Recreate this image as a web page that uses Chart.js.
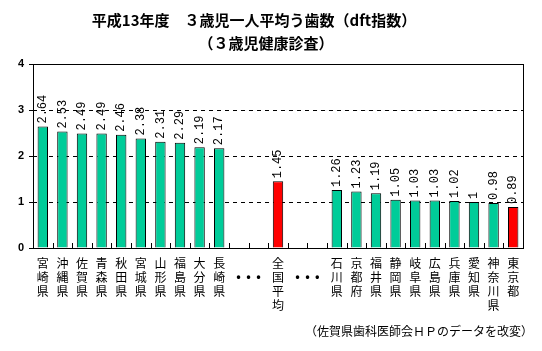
<!DOCTYPE html>
<html>
<head>
<meta charset="utf-8">
<script src="https://cdn.jsdelivr.net/npm/chart.js@4"></script>
<style>
  html, body { margin: 0; padding: 0; background: #fff; }
  #wrap { width: 542px; height: 351px; }
</style>
</head>
<body>
<div id="wrap"><canvas id="dftChart"></canvas></div>
<script>
// data ('' = gap slot, shown as ・・・)
var categories = ['宮崎県', '沖縄県', '佐賀県', '青森県', '秋田県', '宮城県', '山形県', '福島県', '大分県', '長崎県',
    '', '', '全国平均', '', '',
    '石川県', '京都府', '福井県', '静岡県', '岐阜県', '広島県', '兵庫県', '愛知県', '神奈川県', '東京都'];
var dftValues = [2.64, 2.53, 2.49, 2.49, 2.46, 2.38, 2.31, 2.29, 2.19, 2.17,
    null, null, 1.45, null, null,
    1.26, 1.23, 1.19, 1.05, 1.03, 1.03, 1.02, 1, 0.98, 0.89];
var highlighted = ['全国平均', '東京都'];
var yTicks = [0, 1, 2, 3, 4];

var titleLines = ['平成13年度　３歳児一人平均う歯数（dft指数）', '（３歳児健康診査）'];
var sourceNote = '（佐賀県歯科医師会ＨＰのデータを改変）';

var GREEN = '#00CC99';
var RED = '#FF0000';

var barColors = categories.map(function(c) {
    return highlighted.indexOf(c) >= 0 ? RED : GREEN;
});

var extrasPlugin = {
    id: 'extras',
    afterDatasetsDraw: function(chart) {
        var ctx = chart.ctx;
        var area = chart.chartArea;
        var xs = chart.scales.x;
        var meta = chart.getDatasetMeta(0);

        // small inward ticks between categories along the bottom
        ctx.save();
        ctx.strokeStyle = '#000';
        ctx.lineWidth = 1;
        ctx.beginPath();
        for (var i = 1; i < categories.length; i++) {
            var bx = Math.round((xs.getPixelForValue(i - 1) + xs.getPixelForValue(i)) / 2) + 0.5;
            ctx.moveTo(bx, area.bottom);
            ctx.lineTo(bx, area.bottom - 5);
        }
        ctx.stroke();

        // frame
        ctx.strokeRect(Math.round(area.left) + 0.5, Math.round(area.top) + 0.5,
            Math.round(area.right - area.left), Math.round(area.bottom - area.top));

        // vertical value labels
        ctx.fillStyle = '#000';
        ctx.font = '12px "Liberation Mono"';
        ctx.textAlign = 'left';
        ctx.textBaseline = 'middle';
        meta.data.forEach(function(bar, idx) {
            var v = dftValues[idx];
            if (v === null) return;
            ctx.save();
            ctx.translate(bar.x, bar.y - 3);
            ctx.rotate(-Math.PI / 2);
            ctx.fillText(String(v), 0, 0);
            ctx.restore();
        });

        // ・・・ between each pair of empty slots
        ctx.font = 'bold 12px "Noto Sans CJK JP"';
        ctx.textAlign = 'center';
        ctx.textBaseline = 'middle';
        for (var j = 0; j < categories.length - 1; j++) {
            if (categories[j] === '' && categories[j + 1] === '') {
                var mx = (xs.getPixelForValue(j) + xs.getPixelForValue(j + 1)) / 2;
                ctx.fillText('•  •  •', mx, area.bottom + 28);
                j++;
            }
        }

        // titles and source note
        ctx.font = 'bold 15px "Noto Sans CJK JP"';
        ctx.fillText(titleLines[0], 254, 20);
        ctx.fillText(titleLines[1], 266, 43);
        ctx.font = '12px "Noto Sans CJK JP"';
        ctx.textAlign = 'right';
        ctx.fillText(sourceNote, 533, 331);
        ctx.restore();
    }
};

new Chart(document.getElementById('dftChart'), {
    type: 'bar',
    data: {
        labels: categories,
        datasets: [{
            data: dftValues,
            backgroundColor: barColors,
            borderColor: '#000',
            borderWidth: 1,
            barPercentage: 0.53,
            categoryPercentage: 1
        }]
    },
    plugins: [extrasPlugin],
    options: {
        responsive: true,
        maintainAspectRatio: false,
        animation: false,
        layout: {
            padding: { left: 0, right: 19, top: 64, bottom: 0 }
        },
        plugins: {
            legend: { display: false },
            title: { display: false },
            tooltip: { enabled: false }
        },
        scales: {
            x: {
                grid: { display: false },
                border: { display: false },
                ticks: {
                    autoSkip: false,
                    maxRotation: 0,
                    minRotation: 0,
                    padding: 0,
                    color: '#000',
                    font: { family: '"Noto Sans CJK JP"', size: 12, lineHeight: '14px' },
                    callback: function(value, index) {
                        return categories[index] === '' ? '' : categories[index].split('');
                    }
                },
                afterFit: function(scale) { scale.height = 103; }
            },
            y: {
                min: 0,
                max: 4,
                afterBuildTicks: function(scale) {
                    scale.ticks = yTicks.map(function(v) { return { value: v }; });
                },
                grid: {
                    color: '#000',
                    lineWidth: 1,
                    drawTicks: true,
                    tickLength: 4,
                    tickBorderDash: []
                },
                border: { display: false, dash: [4, 4] },
                ticks: {
                    padding: 5,
                    color: '#000',
                    font: { family: '"Liberation Sans"', size: 11, weight: 'bold' }
                },
                afterFit: function(scale) { scale.width = 33; }
            }
        }
    }
});
</script>
</body>
</html>
